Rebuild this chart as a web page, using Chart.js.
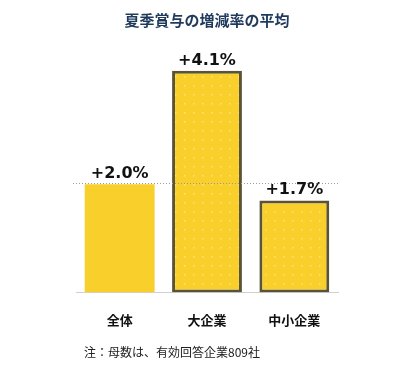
<!DOCTYPE html>
<html>
<head>
<meta charset="utf-8">
<script src="https://cdn.jsdelivr.net/npm/chart.js@4"></script>
<style>
  html, body { margin: 0; padding: 0; background: #fff; }
  #wrap { width: 420px; height: 373px; }
</style>
</head>
<body>
<div id="wrap"><canvas id="myChart" width="420" height="373"></canvas></div>
<script>
var categories = ["全体", "大企業", "中小企業"];
var values = [2.0, 4.1, 1.7];
var valueLabels = ["+2.0%", "+4.1%", "+1.7%"];
var titleText = "夏季賞与の増減率の平均";
var noteText = "注：母数は、有効回答企業809社";
var refValue = 2.0;

var YELLOW = '#f9cf2b';
var EDGE = '#5b5336';

function dotPattern() {
    var c = document.createElement('canvas');
    c.width = 9; c.height = 9;
    var g = c.getContext('2d');
    g.fillStyle = YELLOW;
    g.fillRect(0, 0, 9, 9);
    g.fillStyle = '#fde27a';
    g.fillRect(4, 4, 1.5, 1.5);
    return g.createPattern(c, 'repeat');
}

var chartText = {
    id: 'chartText',
    afterDraw: function (chart) {
        var ctx = chart.ctx;
        var y = chart.scales.y;
        var area = chart.chartArea;
        ctx.save();
        // dotted reference line at the overall average
        var ry = Math.round(y.getPixelForValue(refValue)) - 0.5;
        ctx.strokeStyle = '#9a9a9a';
        ctx.lineWidth = 1;
        ctx.setLineDash([1, 2]);
        ctx.beginPath();
        ctx.moveTo(area.left - 3, ry);
        ctx.lineTo(area.right + 2, ry);
        ctx.stroke();
        ctx.setLineDash([]);
        // value labels
        var meta = chart.getDatasetMeta(0);
        ctx.fillStyle = '#111';
        ctx.font = 'bold 16px "DejaVu Sans", Verdana, sans-serif';
        ctx.textAlign = 'center';
        ctx.textBaseline = 'alphabetic';
        meta.data.forEach(function (bar, i) {
            ctx.fillText(valueLabels[i], bar.x, bar.y - 6);
        });
        // footnote
        ctx.fillStyle = '#222';
        ctx.font = '12px "Noto Sans CJK JP", sans-serif';
        ctx.textAlign = 'left';
        ctx.textBaseline = 'middle';
        ctx.fillText(noteText, 84, 352);
        ctx.restore();
    }
};

var ctx = document.getElementById('myChart');
var myChart = new Chart(ctx, {
    type: 'bar',
    data: {
        labels: categories,
        datasets: [{
            data: values,
            backgroundColor: [YELLOW, dotPattern(), dotPattern()],
            borderColor: [YELLOW, EDGE, EDGE],
            borderWidth: [0, 3, 3],
            borderSkipped: false,
            categoryPercentage: 0.8,
            barPercentage: 1.0
        }]
    },
    options: {
        responsive: false,
        animation: false,
        layout: { padding: { left: 76, right: 82, top: 0, bottom: 25 } },
        plugins: {
            legend: { display: false },
            tooltip: { enabled: false },
            title: {
                display: true,
                text: titleText,
                color: '#1f3a5c',
                font: { family: '"Noto Sans CJK JP", sans-serif', size: 15, weight: 'bold' },
                padding: { top: 11, bottom: 20 }
            }
        },
        scales: {
            x: {
                grid: { display: false, drawTicks: false },
                border: { display: true, color: '#d0d0d0', width: 1 },
                ticks: {
                    color: '#111',
                    padding: 20,
                    font: { family: '"Noto Sans CJK JP", sans-serif', size: 13, weight: 'bold' }
                }
            },
            y: {
                display: false,
                min: 0,
                max: 4.5
            }
        }
    },
    plugins: [chartText]
});
</script>
</body>
</html>
